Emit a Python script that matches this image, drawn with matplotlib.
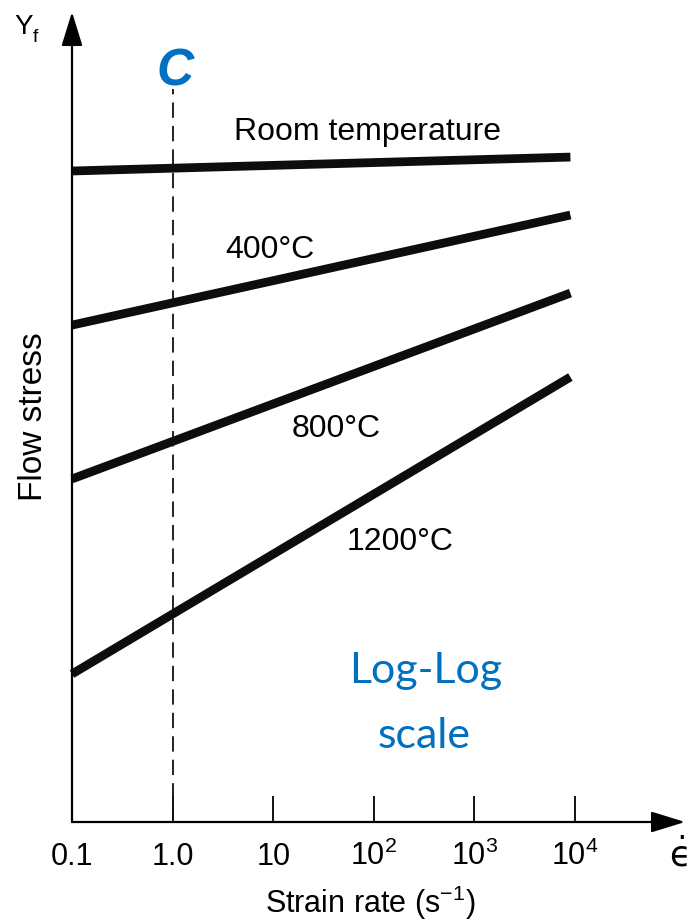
import numpy as np
import matplotlib.pyplot as plt
from matplotlib.ticker import NullLocator
from matplotlib.transforms import blended_transform_factory

plt.rcParams['font.family'] = ['Liberation Sans', 'DejaVu Sans']
plt.rcParams['mathtext.fontset'] = 'custom'
plt.rcParams['mathtext.rm'] = 'Liberation Sans'
plt.rcParams['mathtext.it'] = 'Liberation Sans:italic'

# strain rate (1/s) at both ends of each curve
strain_rate = [0.1, 9.0e3]

# flow stress, arbitrary units on a log axis
temperatures = ['Room temperature', '400°C', '800°C', '1200°C']
stress_room = [2.96e6, 4.07e6]
stress_400 = [8.7e4, 1.08e6]
stress_800 = [2.57e3, 1.81e5]
stress_1200 = [29.6, 2.65e4]

tick_values = [0.1, 1.0, 10, 1e2, 1e3, 1e4]
tick_labels = ['0.1', '1.0', '10', r'10$^2$', r'10$^3$', r'10$^4$']

W, H = 691, 921
fig = plt.figure(figsize=(W / 100, H / 100), dpi=100)


def fx(px):
    return px / W


def fy(py):
    return 1 - py / H


# axes box: origin at (72, 822) px, arrow tips at x=685 and y=12
ax = fig.add_axes([fx(72), fy(822), fx(685) - fx(72), fy(12) - fy(822)])
ax.set_xscale('log')
ax.set_yscale('log')
decade = 100.6
ax.set_xlim(0.1, 0.1 * 10 ** ((685 - 72) / decade))
ax.set_ylim(1, 10 ** ((822 - 12) / decade))
for s in ax.spines.values():
    s.set_visible(False)
ax.set_facecolor('none')

# the four flow-stress curves
for ys in [stress_room, stress_400, stress_800, stress_1200]:
    ax.plot(strain_rate, ys, color='#0d0d0d', lw=6.3, solid_capstyle='butt', clip_on=False)

# dashed marker at strain rate 1.0
ax.axvline(1.0, ymin=0, ymax=(822 - 89) / 810, color='#111111', lw=1.3,
           ls=(0, (8.5, 4.5)))

# axes with arrow heads
arrow = dict(arrowstyle='-|>,head_length=21,head_width=6.5', mutation_scale=1,
             color='black', lw=1.6, shrinkA=0, shrinkB=0)
ax.annotate('', xy=(0, 1), xytext=(0, 0), xycoords='axes fraction', arrowprops=arrow)
ax.annotate('', xy=(1, 0), xytext=(0, 0), xycoords='axes fraction', arrowprops=arrow)

# ticks
ax.set_xticks(tick_values)
ax.xaxis.set_minor_locator(NullLocator())
ax.yaxis.set_major_locator(NullLocator())
ax.yaxis.set_minor_locator(NullLocator())
ax.tick_params(axis='x', direction='in', length=19, width=1.3, labelbottom=False)
trans = blended_transform_factory(ax.transData, fig.transFigure)
for v, lab in zip(tick_values, tick_labels):
    ax.text(v, fy(865), lab, transform=trans, ha='center', va='baseline', fontsize=22)

# axis titles
fig.text(fx(370), fy(913), r'Strain rate (s$^{-1}$)', ha='center', va='baseline', fontsize=22)
fig.text(fx(42), fy(417), 'Flow stress', rotation=90, rotation_mode='anchor',
         ha='center', va='baseline', fontsize=24)
fig.text(fx(14), fy(34), 'Y', ha='left', va='baseline', fontsize=20)
fig.text(fx(33), fy(42), 'f', ha='left', va='baseline', fontsize=14)
# strain-rate symbol: upright lunate epsilon with a dot above
fig.text(fx(669), fy(866), '$\\dot{\\mathrm{\u03f5}}$', ha='left', va='baseline',
         fontsize=25, math_fontfamily='dejavusans')

# curve labels
fig.text(fx(368), fy(140), temperatures[0], ha='center', va='baseline', fontsize=23)
fig.text(fx(225), fy(258), temperatures[1], ha='left', va='baseline', fontsize=23)
fig.text(fx(292), fy(437), temperatures[2], ha='left', va='baseline', fontsize=23)
fig.text(fx(347), fy(550), temperatures[3], ha='left', va='baseline', fontsize=23)

# blue annotations
blue = '#0070C0'
fig.text(fx(175), fy(85), 'C', color=blue, fontsize=37, fontweight='bold',
         fontstyle='italic', ha='center', va='baseline')
fig.text(fx(426), fy(683), 'Log-Log', color=blue, fontsize=31, family='Lato',
         ha='center', va='baseline')
fig.text(fx(424), fy(748), 'scale', color=blue, fontsize=31, family='Lato',
         ha='center', va='baseline')

fig.savefig('out.png', dpi=100)
